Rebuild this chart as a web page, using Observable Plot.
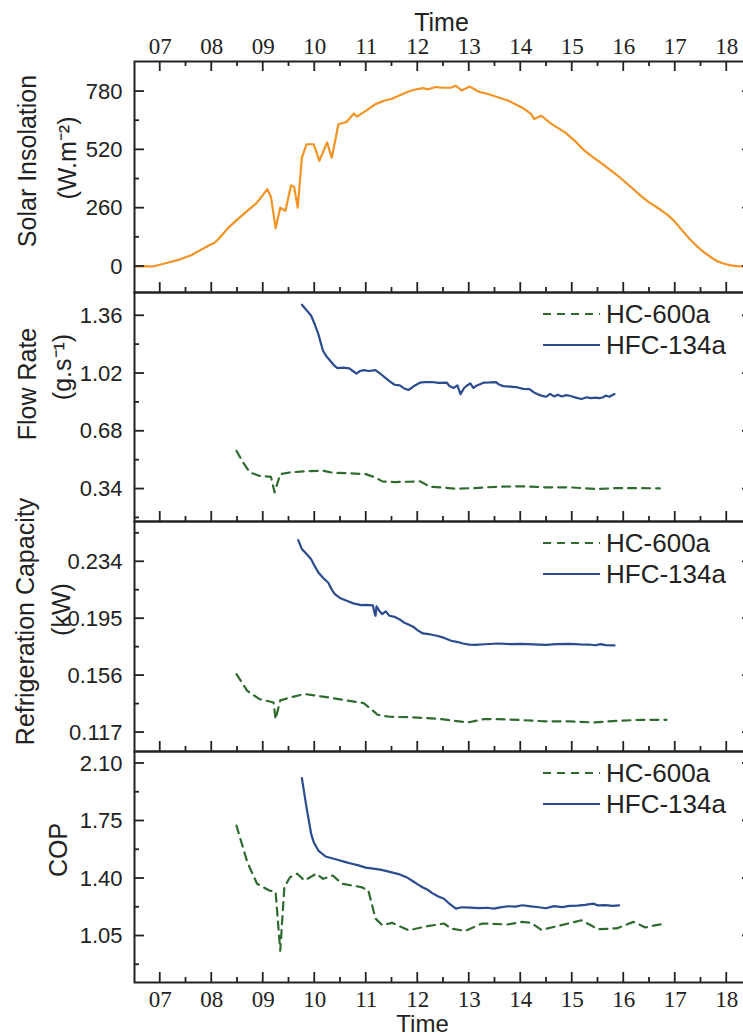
<!DOCTYPE html>
<html><head><meta charset="utf-8">
<script src="https://cdn.jsdelivr.net/npm/d3@7"></script>
<script src="https://cdn.jsdelivr.net/npm/@observablehq/plot@0.6"></script>
<style>
html,body{margin:0;padding:0;background:#fff;overflow:hidden;}
#wrap{position:relative;width:743px;height:1036px;overflow:hidden;background:#fff;}
.panel{position:absolute;left:0;}
</style></head><body><div id="wrap"></div>
<script>
// ---- axis ticks ----
const hourTicks = [7,8,9,10,11,12,13,14,15,16,17,18];
const hourLabels = ["07","08","09","10","11","12","13","14","15","16","17","18"];
const halfHourTicks = [7.5,8.5,9.5,10.5,11.5,12.5,13.5,14.5,15.5,16.5,17.5];

const solarTicks = [0,260,520,780];
const solarMinor = [130,390,650];
const flowTicks = [0.34,0.68,1.02,1.36];
const flowMinor = [0.17,0.51,0.85,1.19];
const capTicks = [0.117,0.156,0.195,0.234];
const capMinor = [0.1365,0.1755,0.2145,0.2535];
const copTicks = [1.05,1.40,1.75,2.10];
const copMinor = [0.875,1.225,1.575,1.925];

const seriesNames = ["HC-600a","HFC-134a"];

// ---- data ----
const solarTime = [6.5,6.7,6.85,7.03,7.2,7.4,7.6,7.77,7.95,8.05,8.14,8.32,8.5,8.69,8.88,9.08,9.15,9.24,9.33,9.43,9.54,9.6,9.67,9.75,9.84,9.98,10.09,10.24,10.33,10.46,10.55,10.62,10.76,10.82,10.99,11.18,11.36,11.5,11.64,11.8,11.91,12.1,12.2,12.35,12.5,12.64,12.74,12.85,13.01,13.1,13.2,13.35,13.48,13.75,14.03,14.2,14.26,14.4,14.58,14.86,15.05,15.23,15.4,15.59,15.8,15.96,16.15,16.33,16.5,16.7,16.85,16.97,17.1,17.25,17.4,17.53,17.7,17.8,17.95,18.08,18.2,18.33,18.5];
const solarValue = [0,2,0,10,20,33,50,72,95,105,125,172,210,248,285,345,310,170,262,248,362,355,262,485,545,545,471,553,485,634,640,645,682,668,694,724,740,748,762,778,787,795,790,800,797,797,806,785,802,790,778,770,760,740,708,680,658,672,638,598,560,518,488,456,420,390,352,315,285,255,230,205,170,130,95,68,40,25,12,5,2,0,0];

const flowHfcTime = [9.75,9.85,9.93,10.0,10.07,10.16,10.23,10.3,10.37,10.44,10.55,10.67,10.74,10.81,10.88,10.95,11.05,11.18,11.27,11.36,11.45,11.55,11.65,11.75,11.82,11.92,12.05,12.15,12.28,12.4,12.56,12.62,12.7,12.77,12.83,12.9,12.95,13.02,13.08,13.15,13.29,13.4,13.52,13.58,13.66,13.8,13.94,14.05,14.17,14.25,14.32,14.4,14.49,14.57,14.65,14.72,14.8,14.88,14.95,15.05,15.18,15.28,15.37,15.45,15.52,15.59,15.65,15.72,15.82];
const flowHfcValue = [1.425,1.39,1.36,1.31,1.252,1.154,1.12,1.095,1.07,1.052,1.055,1.05,1.035,1.02,1.035,1.04,1.035,1.04,1.02,0.997,0.975,0.954,0.95,0.93,0.923,0.945,0.967,0.97,0.97,0.965,0.967,0.945,0.935,0.95,0.899,0.935,0.948,0.962,0.935,0.95,0.967,0.968,0.97,0.955,0.946,0.943,0.938,0.93,0.928,0.91,0.9,0.89,0.883,0.9,0.885,0.895,0.885,0.893,0.889,0.88,0.87,0.88,0.875,0.878,0.875,0.879,0.89,0.883,0.899];
const flowHcTime = [8.48,8.6,8.74,8.92,9.15,9.22,9.33,9.52,9.8,10.16,10.35,10.7,10.99,11.18,11.31,11.55,11.8,12.05,12.23,12.5,12.74,13.11,13.57,14.03,14.49,14.95,15.5,15.87,16.24,16.7];
const flowHcValue = [0.565,0.5,0.438,0.418,0.412,0.32,0.428,0.438,0.444,0.448,0.436,0.432,0.428,0.408,0.385,0.381,0.383,0.385,0.354,0.348,0.342,0.346,0.354,0.356,0.35,0.35,0.34,0.346,0.346,0.344];

const capHfcTime = [9.68,9.75,9.85,9.93,10.0,10.07,10.16,10.26,10.33,10.39,10.5,10.62,10.75,10.9,11.0,11.13,11.16,11.18,11.2,11.25,11.31,11.38,11.45,11.55,11.65,11.73,11.82,11.91,12.0,12.1,12.25,12.37,12.5,12.65,12.78,12.88,13.0,13.11,13.3,13.57,13.8,14.03,14.25,14.49,14.7,14.95,15.15,15.32,15.45,15.55,15.65,15.82];
const capHfcValue = [0.2489,0.2427,0.239,0.2358,0.231,0.2267,0.223,0.2198,0.215,0.2119,0.209,0.2073,0.2055,0.2043,0.2045,0.2041,0.199,0.197,0.2035,0.2005,0.1982,0.2,0.197,0.1963,0.1945,0.1924,0.191,0.1895,0.187,0.1849,0.1842,0.1833,0.182,0.1799,0.179,0.178,0.1772,0.1771,0.1775,0.178,0.1776,0.1778,0.1774,0.1771,0.1776,0.1778,0.1774,0.1773,0.1768,0.1776,0.1769,0.1767];
const capHcTime = [8.48,8.69,8.92,9.2,9.24,9.33,9.52,9.8,10.16,10.53,10.95,11.08,11.22,11.45,11.91,12.46,12.97,13.29,13.57,14.03,14.49,14.95,15.41,15.87,16.33,16.83];
const capHcValue = [0.157,0.1456,0.14,0.1376,0.1262,0.139,0.141,0.1434,0.1416,0.1395,0.1372,0.1335,0.1292,0.1278,0.1274,0.1262,0.1239,0.1262,0.1262,0.1255,0.1246,0.1246,0.1239,0.125,0.1257,0.1257];

const copHfcTime = [9.75,9.84,9.93,9.98,10.07,10.21,10.44,10.6,10.72,10.85,10.99,11.1,11.27,11.4,11.55,11.65,11.78,11.9,12.0,12.1,12.2,12.28,12.4,12.51,12.62,12.74,12.85,13.02,13.2,13.35,13.48,13.6,13.75,13.9,14.03,14.2,14.35,14.49,14.65,14.8,14.95,15.1,15.25,15.41,15.5,15.65,15.78,15.91];
const copHfcValue = [2.011,1.833,1.672,1.621,1.57,1.534,1.514,1.5,1.49,1.48,1.466,1.462,1.454,1.445,1.433,1.425,1.408,1.385,1.364,1.345,1.33,1.311,1.29,1.277,1.245,1.217,1.225,1.223,1.22,1.222,1.217,1.224,1.231,1.229,1.237,1.23,1.225,1.219,1.232,1.226,1.233,1.235,1.24,1.247,1.236,1.238,1.233,1.237];
const copHcTime = [8.48,8.69,8.88,9.11,9.24,9.33,9.41,9.52,9.66,9.8,10.03,10.16,10.35,10.53,10.9,11.04,11.18,11.31,11.5,11.82,12.19,12.51,12.65,12.92,13.25,13.75,14.03,14.2,14.4,14.67,15.18,15.5,15.87,16.19,16.42,16.6,16.83];
const copHcValue = [1.722,1.5,1.368,1.328,1.318,0.96,1.348,1.408,1.429,1.388,1.429,1.398,1.418,1.368,1.348,1.328,1.156,1.116,1.13,1.085,1.11,1.126,1.095,1.081,1.126,1.12,1.136,1.13,1.087,1.107,1.146,1.091,1.097,1.136,1.102,1.115,1.126];

// ---- styles ----
const INK = "#222";
const ORANGE = "#f39323";
const BLUE = "#2b4c8e";
const GREEN = "#2f6b2f";
const DASH = "8,6";
const SANS = "'Liberation Sans', Arial, sans-serif";
const SERIF = "'Liberation Serif', 'Times New Roman', serif";
const WIDTH = 752, ML = 134;

const zip = (ts, vs) => ts.map((t, i) => ({t, v: vs[i]}));
const hourFmt = d => hourLabels[hourTicks.indexOf(d)] ?? "";

// inward tick marks, positioned through the chart's own scales
function addTicks(chart, {height, marginTop, marginBottom, major, minor, withTop}) {
  const xs = chart.scale("x"), ys = chart.scale("y");
  const top = marginTop, bottom = height - marginBottom, left = ML, right = WIDTH;
  const g = d3.select(chart).append("g").attr("stroke", INK).attr("stroke-width", 1.8);
  const seg = (x1, y1, x2, y2) => g.append("line").attr("x1", x1).attr("y1", y1).attr("x2", x2).attr("y2", y2);
  const yTicks = [...major.map(v => [v, 10]), ...minor.map(v => [v, 5])];
  const xTicks = [...hourTicks.map(v => [v, 10]), ...halfHourTicks.map(v => [v, 5])];
  yTicks.forEach(([v, L]) => { const y = ys.apply(v); seg(left, y, left + L, y); seg(right, y, right - L, y); });
  xTicks.forEach(([v, L]) => {
    const x = xs.apply(v);
    seg(x, bottom, x, bottom - L);
    if (withTop) seg(x, top, x, top + L);
  });
}

function panel(cfg) {
  const {top, height, marginTop, marginBottom, domain, major, fmt, lines, titles, extra = []} = cfg;
  const chart = Plot.plot({
    width: WIDTH, height, marginLeft: ML, marginRight: 0, marginTop, marginBottom,
    style: {background: "transparent", overflow: "visible", maxWidth: "none", fontFamily: SANS, color: INK},
    x: {domain: [6.5, 18.5], label: null, axis: null},
    y: {domain, label: null, axis: null},
    marks: [
      ...lines,
      Plot.frame({stroke: INK, strokeWidth: 2}),
      Plot.axisY(major, {anchor: "left", tickSize: 0, tickPadding: 12, tickFormat: fmt, label: null, fontSize: 22, fill: INK}),
      ...titles.map(([txt, dx, dy, fs]) => Plot.text([txt], {frameAnchor: "left", rotate: -90, dx, dy, fontSize: fs,
        textAnchor: "middle", lineAnchor: "middle", fill: INK, fontFamily: SANS})),
      ...extra
    ]
  });
  addTicks(chart, cfg);
  chart.classList.add("panel");
  chart.style.top = top + "px";
  document.getElementById("wrap").appendChild(chart);
}

const solidLine = (data, stroke) => Plot.line(data, {x: "t", y: "v", stroke, strokeWidth: 2.2});
const dashLine = (data, stroke) => Plot.line(data, {x: "t", y: "v", stroke, strokeWidth: 2.2, strokeDasharray: DASH});

// Panel 1: solar insolation
panel({
  top: 0, height: 292, marginTop: 61, marginBottom: 0,
  domain: [-116, 914], major: solarTicks, minor: solarMinor, fmt: d3.format("d"),
  lines: [solidLine(zip(solarTime, solarValue), ORANGE)],
  titles: [["Solar Insolation", -107, -16, 25], ["(W.m\u207B\u00B2)", -67, -19, 25]],
  withTop: true,
  extra: [
    Plot.axisX(hourTicks, {anchor: "top", tickSize: 0, tickPadding: 8, tickFormat: hourFmt, label: null, fontSize: 23, fontFamily: SERIF, fill: INK}),
    Plot.text(["Time"], {frameAnchor: "top", dx: -2, dy: -39, lineAnchor: "middle", fontSize: 25, fill: INK, fontFamily: SANS})
  ]
});

// Panel 2: flow rate
panel({
  top: 292, height: 229, marginTop: 0, marginBottom: 0,
  domain: [0.149, 1.497], major: flowTicks, minor: flowMinor, fmt: d3.format(".2f"),
  lines: [dashLine(zip(flowHcTime, flowHcValue), GREEN), solidLine(zip(flowHfcTime, flowHfcValue), BLUE)],
  titles: [["Flow Rate", -107, -23, 25], ["(g.s\u207B\u00B9)", -72, -40, 25]]
});

// Panel 3: refrigeration capacity
panel({
  top: 521, height: 230, marginTop: 0, marginBottom: 0,
  domain: [0.104, 0.2616], major: capTicks, minor: capMinor, fmt: d3.format(".3f"),
  lines: [dashLine(zip(capHcTime, capHcValue), GREEN), solidLine(zip(capHfcTime, capHfcValue), BLUE)],
  titles: [["Refrigeration Capacity", -109, -15, 25], ["(kW)", -73, -27, 25]]
});

// Panel 4: COP
panel({
  top: 751, height: 285, marginTop: 0, marginBottom: 54,
  domain: [0.767, 2.173], major: copTicks, minor: copMinor, fmt: d3.format(".2f"),
  lines: [dashLine(zip(copHcTime, copHcValue), GREEN), solidLine(zip(copHfcTime, copHfcValue), BLUE)],
  titles: [["COP", -76, -17, 25]],
  extra: [
    Plot.axisX(hourTicks, {anchor: "bottom", tickSize: 0, tickPadding: 8, tickFormat: hourFmt, label: null, fontSize: 23, fontFamily: SERIF, fill: INK}),
    Plot.text(["Time"], {frameAnchor: "bottom", dx: -21, dy: 42, lineAnchor: "middle", fontSize: 24, fill: INK, fontFamily: SANS})
  ]
});

// ---- legends (panels 2–4) ----
const legendTops = [292, 521, 751];
const wrap = d3.select("#wrap");
legendTops.forEach(top => {
  const svg = wrap.append("svg").attr("class", "panel")
    .style("top", (top + 4) + "px").style("left", "538px")
    .attr("width", 205).attr("height", 70).style("overflow", "visible");
  const rows = [
    {name: seriesNames[0], stroke: GREEN, dash: DASH},
    {name: seriesNames[1], stroke: BLUE, dash: null}
  ];
  rows.forEach((r, i) => {
    const y = 18 + i * 31;
    svg.append("line").attr("x1", 5).attr("x2", 62).attr("y1", y).attr("y2", y)
      .attr("stroke", r.stroke).attr("stroke-width", 2.2).attr("stroke-dasharray", r.dash);
    svg.append("text").attr("x", 68).attr("y", y).attr("dy", "0.36em")
      .attr("font-family", SANS).attr("font-size", 26).attr("fill", INK).text(r.name);
  });
});
</script>
</body></html>
